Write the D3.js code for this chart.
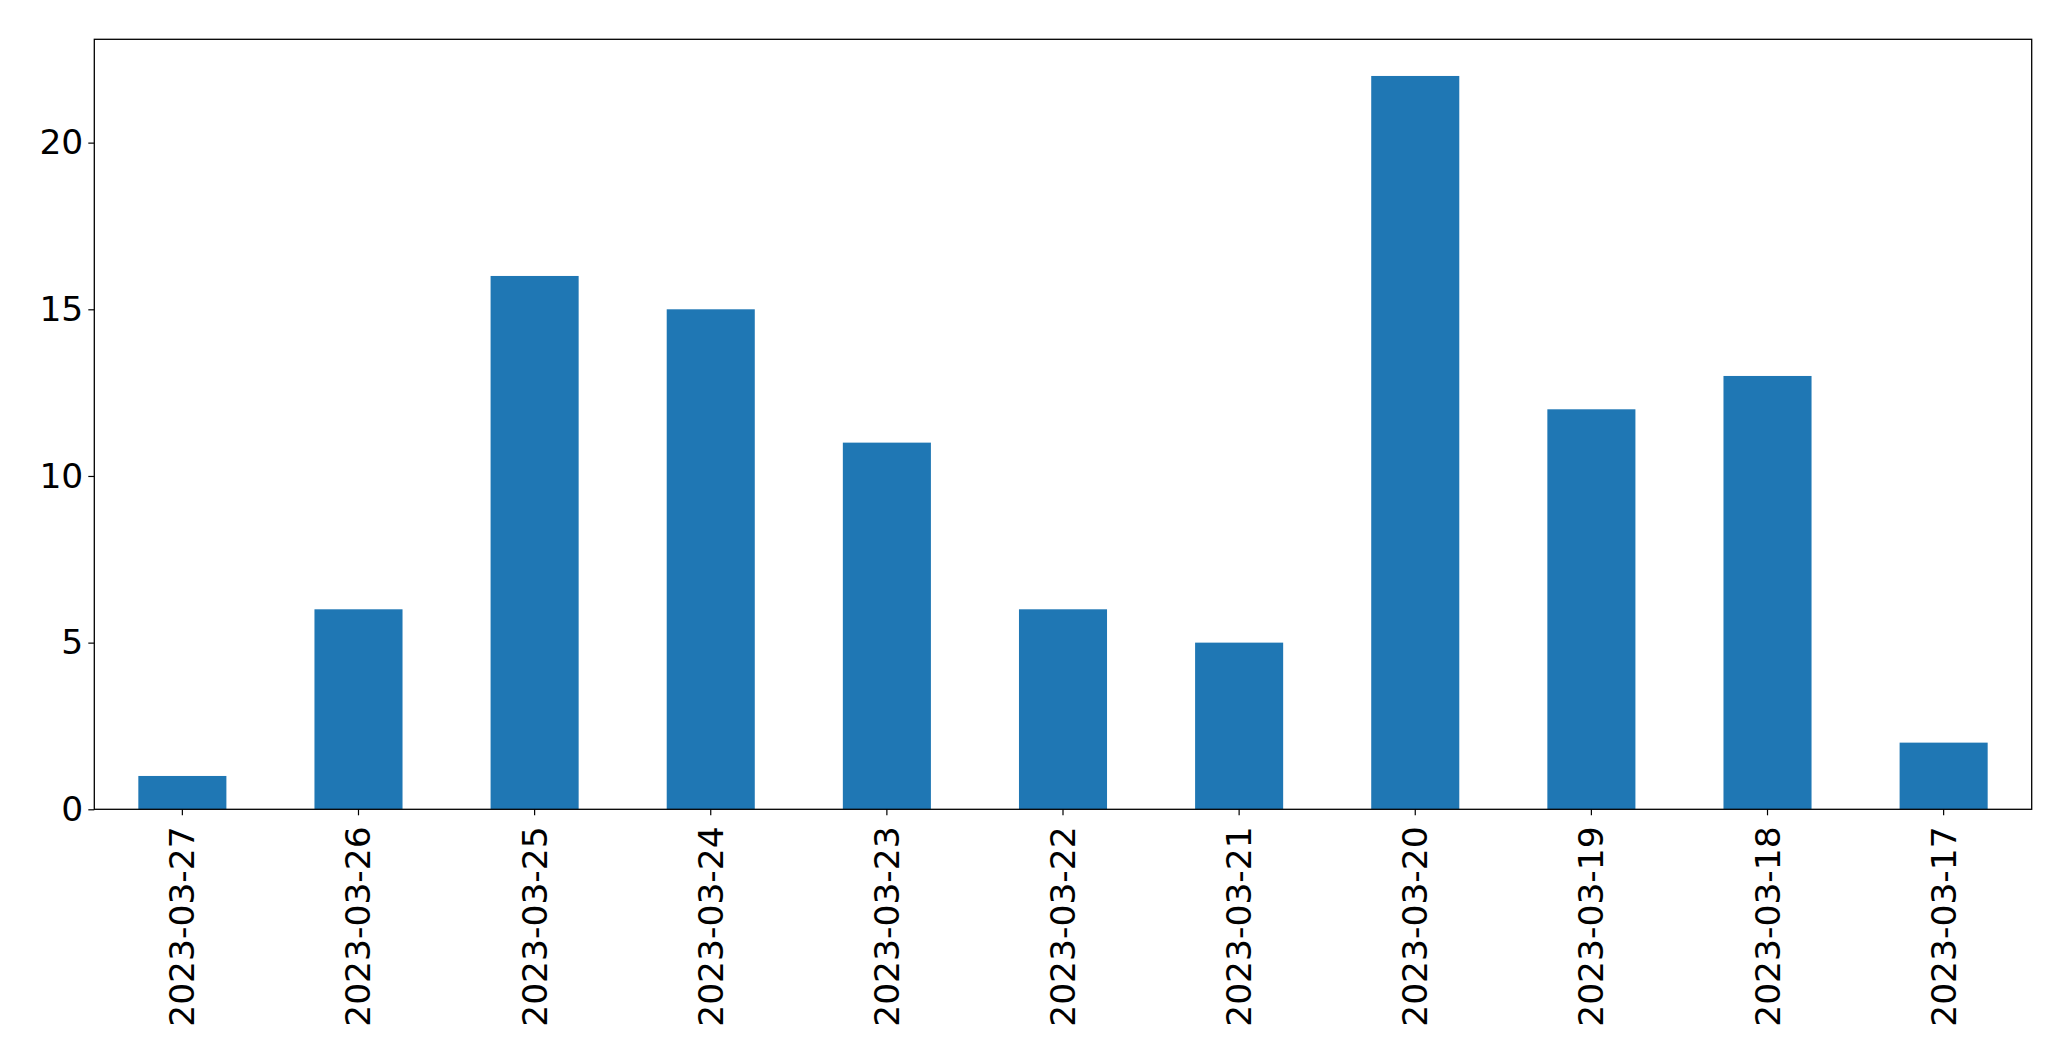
<!DOCTYPE html>
<html><head><meta charset="utf-8">
<script src="https://cdn.jsdelivr.net/npm/d3@7"></script>
<style>body{margin:0;background:#fff}</style>
</head><body>
<script>
const categories = ["2023-03-27","2023-03-26","2023-03-25","2023-03-24","2023-03-23","2023-03-22","2023-03-21","2023-03-20","2023-03-19","2023-03-18","2023-03-17"];
const values = [1, 6, 16, 15, 11, 6, 5, 22, 12, 13, 2];
const yTicks = [0, 5, 10, 15, 20];

const W = 2071, H = 1061;
const m = {left: 94.3, right: 2031.7, top: 39.3, bottom: 809.3};
const svg = d3.select("body").append("svg").attr("width", W).attr("height", H);
const fs = 34.5;
const font = "DejaVu Sans";

const x = d3.scaleBand().domain(categories).range([m.left, m.right]).paddingInner(0.5).paddingOuter(0.25);
const y = d3.scaleLinear().domain([0, d3.max(values) * 1.05]).range([m.bottom, m.top]);

svg.append("g").selectAll("rect").data(values).join("rect")
  .attr("x", (d, i) => x(categories[i]))
  .attr("width", x.bandwidth())
  .attr("y", d => y(d))
  .attr("height", d => y(0) - y(d))
  .attr("fill", "#1f77b4");

const yAxis = svg.append("g").attr("transform", `translate(${m.left},0)`)
  .call(d3.axisLeft(y).tickValues(yTicks).tickSize(6).tickPadding(5));
yAxis.select(".domain").remove();
yAxis.selectAll("line").attr("stroke", "#000").attr("stroke-width", 1.2);
yAxis.selectAll("text").attr("font-family", font).attr("font-size", fs).attr("fill", "#000");

const xAxis = svg.append("g").attr("transform", `translate(0,${m.bottom})`)
  .call(d3.axisBottom(x).tickSize(6).tickPadding(0));
xAxis.select(".domain").remove();
xAxis.selectAll("line").attr("stroke", "#000").attr("stroke-width", 1.2);
xAxis.selectAll("text")
  .attr("font-family", font).attr("font-size", fs).attr("fill", "#000")
  .attr("text-anchor", "end").attr("dy", null).attr("y", 0)
  .attr("dominant-baseline", "central")
  .attr("transform", "translate(0,17) rotate(-90)");

svg.append("rect").attr("x", m.left).attr("y", m.top)
  .attr("width", m.right - m.left).attr("height", m.bottom - m.top)
  .attr("fill", "none").attr("stroke", "#000").attr("stroke-width", 1.3);
</script>
</body></html>
